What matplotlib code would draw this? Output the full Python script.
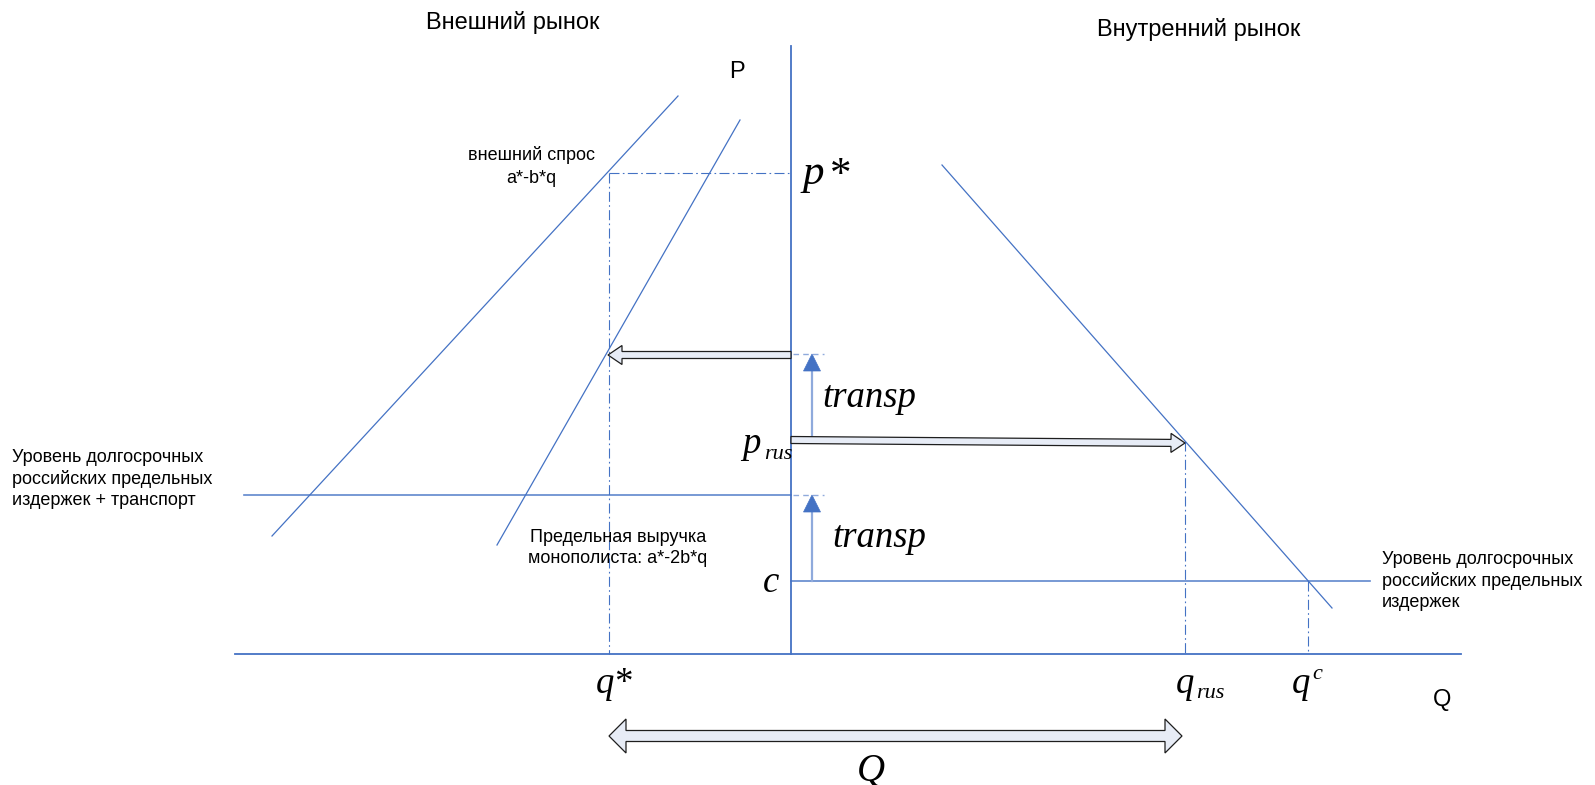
import matplotlib
matplotlib.use("Agg")
import matplotlib.pyplot as plt
from matplotlib.patches import Polygon
import numpy as np

# canvas in pixel units, y grows downward
W, H = 1595, 785

blue = "#4472C4"
pale = "#8FAADC"
fill = "#E7ECF6"
sans = "Liberation Sans"
serif = "Liberation Serif"

# axes of the diagram
axis_x = 791
axis_y = 654
axis_top = 46
axis_left = 235
axis_right = 1461

# price levels
p_star = 173
p_export = 354
p_rus = 441
mc_transp = 495
c_level = 581

# quantity levels
q_star = 609
q_rus = 1185
q_c = 1308

# curves (end points)
ext_demand_x = [272, 678]
ext_demand_y = [536, 96]
ext_mr_x = [497, 740]
ext_mr_y = [545, 120]
dom_demand_x = [942, 1332]
dom_demand_y = [165, 608]

mc_transp_x = [244, axis_x]
c_line_x = [axis_x, 1370]
transp_x = 812


def hollow_arrow(ax, x0, y0, x1, y1, body, head_w, head_len, double=False):
	p0 = np.array([x0, y0], float)
	p1 = np.array([x1, y1], float)
	d = p1 - p0
	u = d / np.hypot(*d)
	n = np.array([-u[1], u[0]])
	b = body / 2
	h = head_w / 2
	e = p1 - u * head_len
	if double:
		s = p0 + u * head_len
		pts = [p0, s + n*h, s + n*b, e + n*b, e + n*h, p1, e - n*h, e - n*b, s - n*b, s - n*h]
	else:
		pts = [p0 + n*b, e + n*b, e + n*h, p1, e - n*h, e - n*b, p0 - n*b]
	ax.add_patch(Polygon(pts, closed=True, fc=fill, ec="#1e1e1e", lw=0.9, joinstyle="miter", zorder=4))


def transp_arrow(ax, y_from, y_to):
	hl, hw = 17, 17
	ax.plot([transp_x, transp_x], [y_from, y_to + hl], color=pale, lw=1.6, zorder=3)
	ax.add_patch(Polygon([[transp_x - hw/2, y_to + hl], [transp_x + hw/2, y_to + hl], [transp_x, y_to]],
		closed=True, fc=blue, ec=blue, lw=0.5, zorder=3))
	ax.plot([axis_x + 2, 824], [y_to, y_to], color=pale, lw=1.0, ls=(0, (4, 3)), zorder=3)


fig = plt.figure(figsize=(W/100, H/100), dpi=100)
ax = fig.add_axes([0, 0, 1, 1])
ax.set_xlim(0, W)
ax.set_ylim(H, 0)
ax.axis("off")

dashdot = (0, (9, 3, 1.5, 3))

# main axes
ax.plot([axis_x, axis_x], [axis_top, axis_y], color=blue, lw=1.3)
ax.plot([axis_left, axis_right], [axis_y, axis_y], color=blue, lw=1.3)

# curves
ax.plot(ext_demand_x, ext_demand_y, color=blue, lw=0.9)
ax.plot(ext_mr_x, ext_mr_y, color=blue, lw=0.9)
ax.plot(dom_demand_x, dom_demand_y, color=blue, lw=0.9)

# cost levels
ax.plot(mc_transp_x, [mc_transp, mc_transp], color=blue, lw=1.2, alpha=0.85)
ax.plot(c_line_x, [c_level, c_level], color=blue, lw=1.2, alpha=0.85)

# guides
ax.plot([q_star, axis_x], [p_star, p_star], color=blue, lw=0.8, ls=dashdot)
ax.plot([q_star, q_star], [p_star, axis_y], color=blue, lw=0.8, ls=dashdot)
ax.plot([q_rus, q_rus], [p_rus, axis_y], color=blue, lw=0.8, ls=dashdot)
ax.plot([q_c, q_c], [c_level, axis_y], color=blue, lw=0.8, ls=dashdot)

# transport markups
transp_arrow(ax, p_rus, p_export)
transp_arrow(ax, c_level, mc_transp)

# flows
hollow_arrow(ax, axis_x, p_export + 1, q_star - 1, p_export + 1, 7, 19, 14)
hollow_arrow(ax, axis_x, p_rus - 1, q_rus, p_rus + 2, 7, 19, 14)
hollow_arrow(ax, q_star, 736, 1182, 736, 11, 34, 17, double=True)

# headings
ax.text(513, 29, "Внешний рынок", ha="center", va="baseline", fontsize=17, family=sans)
ax.text(1199, 36, "Внутренний рынок", ha="center", va="baseline", fontsize=17, family=sans)
ax.text(729, 78, "P", ha="left", va="baseline", fontsize=17, family=sans)
ax.text(1433, 706, "Q", ha="left", va="baseline", fontsize=17, family=sans)

# small labels
lfs = 13
ax.text(531, 160, "внешний спрос", ha="center", va="baseline", fontsize=lfs, family=sans)
ax.text(531, 183, "a*-b*q", ha="center", va="baseline", fontsize=lfs, family=sans)
ax.text(618, 542, "Предельная выручка", ha="center", va="baseline", fontsize=lfs, family=sans)
ax.text(618, 563, "монополиста: a*-2b*q", ha="center", va="baseline", fontsize=lfs, family=sans)
for i, s in enumerate(["Уровень долгосрочных", "российских предельных", "издержек + транспорт"]):
	ax.text(12, 462 + 21.5*i, s, ha="left", va="baseline", fontsize=lfs, family=sans)
for i, s in enumerate(["Уровень долгосрочных", "российских предельных", "издержек"]):
	ax.text(1382, 564 + 21.5*i, s, ha="left", va="baseline", fontsize=lfs, family=sans)

# math labels
mfs = 26.5
sfs = 16
ax.text(803, 184, "p", ha="left", va="baseline", fontsize=31, family=serif, style="italic")
ax.text(830, 186, "*", ha="left", va="baseline", fontsize=31, family=serif)
ax.text(596, 693, "q*", ha="left", va="baseline", fontsize=mfs, family=serif, style="italic")
ax.text(742, 453, "p", ha="left", va="baseline", fontsize=mfs, family=serif, style="italic")
ax.text(764, 459, "rus", ha="left", va="baseline", fontsize=sfs, family=serif, style="italic")
ax.text(763, 592, "c", ha="left", va="baseline", fontsize=mfs, family=serif, style="italic")
ax.text(1176, 693, "q", ha="left", va="baseline", fontsize=mfs, family=serif, style="italic")
ax.text(1196, 698, "rus", ha="left", va="baseline", fontsize=sfs, family=serif, style="italic")
ax.text(1292, 693, "q", ha="left", va="baseline", fontsize=mfs, family=serif, style="italic")
ax.text(1312, 679, "c", ha="left", va="baseline", fontsize=sfs, family=serif, style="italic")
ax.text(822, 407, "transp", ha="left", va="baseline", fontsize=mfs, family=serif, style="italic")
ax.text(832, 547, "transp", ha="left", va="baseline", fontsize=mfs, family=serif, style="italic")
ax.text(857, 781, "Q", ha="left", va="baseline", fontsize=28, family=serif, style="italic")

fig.savefig("out.png", dpi=100)
